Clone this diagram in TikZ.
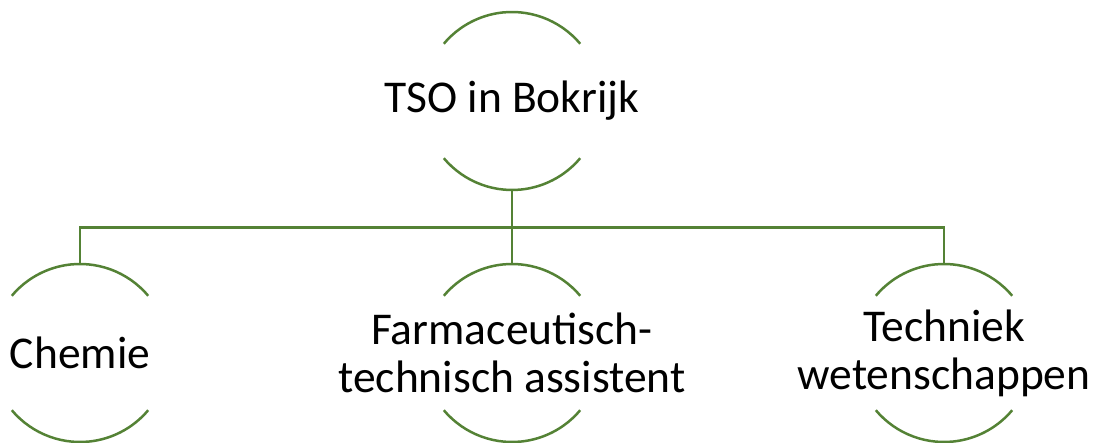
\documentclass[tikz,border=0pt]{standalone}
\usepackage{fontspec}
\setmainfont{Carlito}
\definecolor{arcgreen}{HTML}{548235}

\tikzstyle{ring} = [circle, minimum size=178pt, inner sep=0pt, outer sep=0pt]
\tikzstyle{caption} = [align=center, inner sep=0pt, font=\fontsize{45.5}{48}\selectfont]
\tikzstyle{rim} = [draw=arcgreen, line width=2.5pt]

\begin{document}
\begin{tikzpicture}[x=1pt, y=1pt]
\useasboundingbox (0,0) rectangle (1099,443);
\node[ring] (tso) at (512,342) {};
\node[ring] (chem) at (80,90) {};
\node[ring] (farm) at (512,90) {};
\node[ring] (tech) at (944,90) {};
\node[caption] (tso-t) at (tso) {TSO in Bokrijk};
\node[caption] (chem-t) at (chem) {Chemie};
\node[caption] (farm-t) at (farm) {Farmaceutisch-\\technisch assistent};
\node[caption] (tech-t) at (tech) {Techniek\\wetenschappen};
% open circles
\foreach \n in {tso, chem, farm, tech} {
    \draw[rim] (\n.40) arc[start angle=40, end angle=140, radius=89pt];
    \draw[rim] (\n.-140) arc[start angle=-140, end angle=-40, radius=89pt];
}
% connectors
\coordinate (bar) at (512,215.5);
\draw[rim] (tso.south) -- (bar);
\draw[rim] (chem.north) -- (chem.north |- bar) -- (tech.north |- bar) -- (tech.north);
\draw[rim] (bar) -- (farm.north);
\end{tikzpicture}
\end{document}
